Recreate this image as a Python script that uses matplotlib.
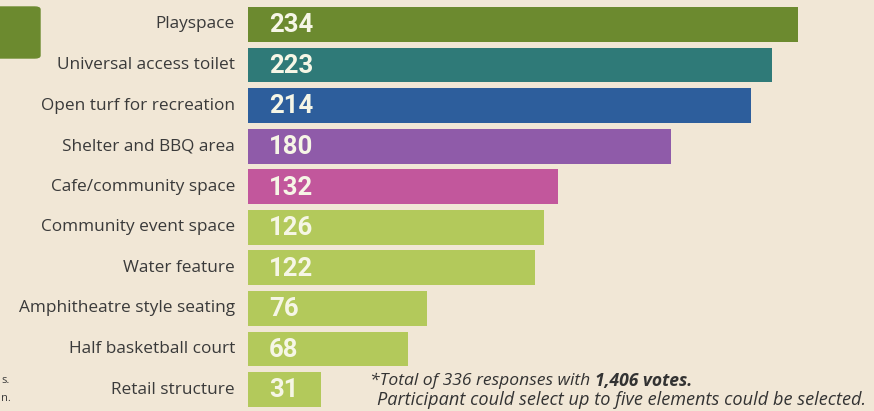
import matplotlib.pyplot as plt
from matplotlib.patches import FancyBboxPatch

categories = ['Playspace', 'Universal access toilet', 'Open turf for recreation',
              'Shelter and BBQ area', 'Cafe/community space', 'Community event space',
              'Water feature', 'Amphitheatre style seating', 'Half basketball court',
              'Retail structure']
votes = [234, 223, 214, 180, 132, 126, 122, 76, 68, 31]
colors = ['#6c8a2f', '#2f7a78', '#2d5e9c', '#8f5ba9', '#c2579c',
          '#b3c95b', '#b3c95b', '#b3c95b', '#b3c95b', '#b3c95b']

bg = '#f1e7d6'
plt.rcParams['font.family'] = ['Open Sans', 'DejaVu Sans']

fig = plt.figure(figsize=(8.74, 4.11), dpi=100, facecolor=bg)
ax = fig.add_axes([248 / 874, 0, 626 / 874, 1])
ax.set_facecolor(bg)

ypos = list(range(len(categories)))
bars = ax.barh(ypos, votes, height=0.86, color=colors)
ax.set_xlim(0, 626 / 2.35)
ax.set_ylim(9.53, -0.604)
ax.axis('off')

for rect, v, name in zip(bars, votes, categories):
    yc = rect.get_y() + rect.get_height() / 2
    ax.text(9, yc + 0.02, str(v), ha='left', va='center', fontsize=18.5,
            fontweight='bold', color='#f6f6e6', family='Roboto')
    ax.text(-13 / 2.35, yc, name, ha='right', va='center', fontsize=12.4,
            color='#3a3a3a')

# green swatch cut at the left edge
fig.patches.append(FancyBboxPatch((-10 / 874, 1 - 58 / 411), 50 / 874, 51 / 411,
                                  boxstyle='round,pad=0,rounding_size=0.006',
                                  transform=fig.transFigure, color='#6c8a2f'))
fig.text(1 / 874, 1 - 380 / 411, 's.', fontsize=8, color='#3a3a3a', va='center')
fig.text(1 / 874, 1 - 398 / 411, 'n.', fontsize=8, color='#3a3a3a', va='center')

t1 = fig.text(370 / 874, 1 - 381 / 411, '*Total of 336 responses with ', fontsize=12.6,
              style='italic', color='#333333', va='center')
fig.canvas.draw()
x_end = t1.get_window_extent().x1 / 874
fig.text(x_end, 1 - 381 / 411, '1,406 votes.', fontsize=12.6, style='italic',
         fontweight='bold', color='#333333', va='center')
fig.text(377 / 874, 1 - 400 / 411,
         'Participant could select up to five elements could be selected.',
         fontsize=13.1, style='italic', color='#333333', va='center')

fig.savefig('out.png', dpi=100, facecolor=bg)
